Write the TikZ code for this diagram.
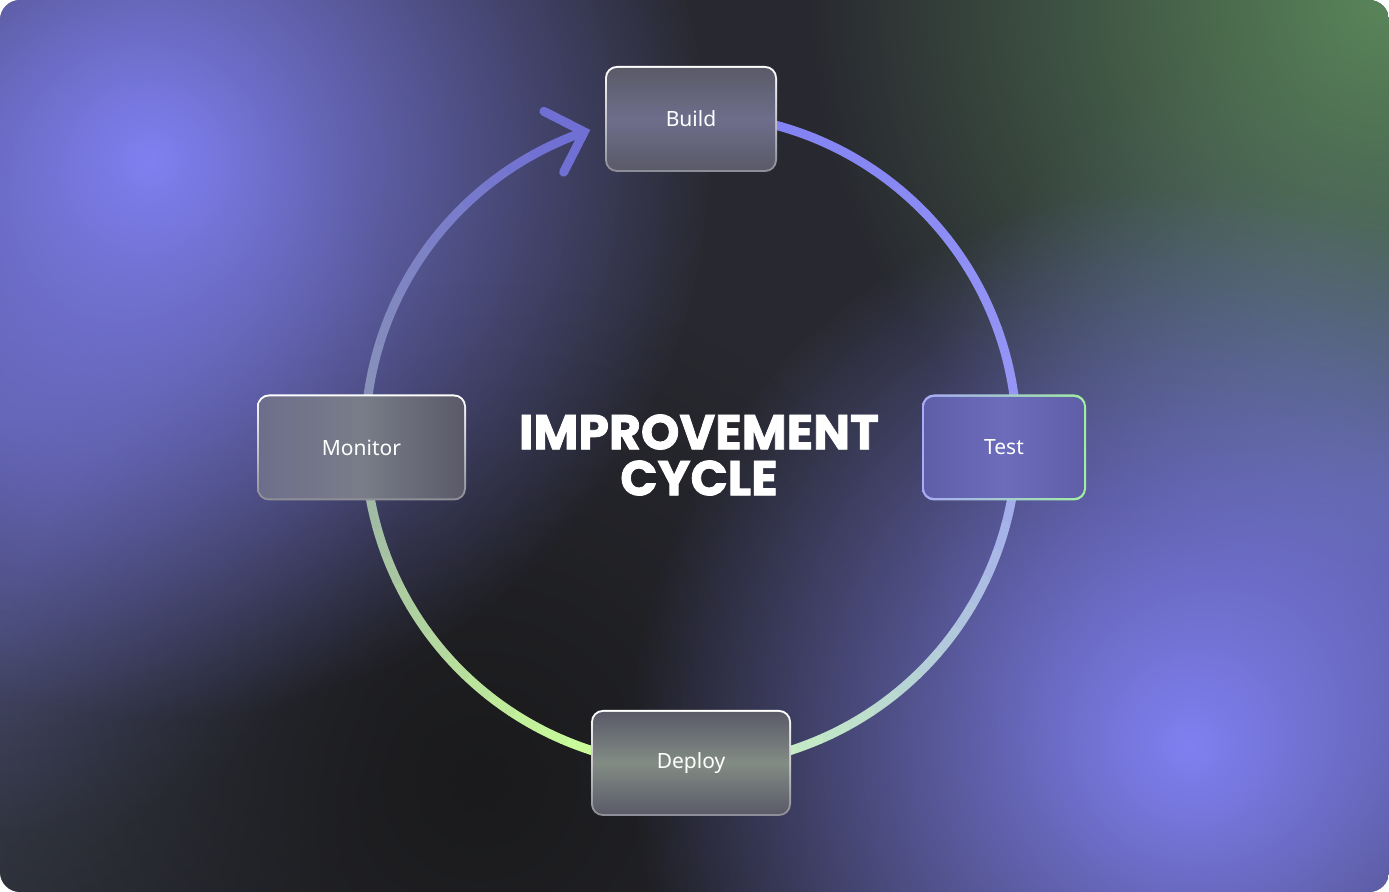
\documentclass[tikz,border=0pt]{standalone}
\usepackage{fontspec}
\setmainfont{Noto Sans}
\newfontfamily\headfont[BoldFeatures={FakeBold=1.6}]{Poppins}
\usepackage{xcolor}
\usepackage{tikz}
\usetikzlibrary{arrows.meta,positioning,fadings}
\definecolor{bgbase}{RGB}{40, 41, 48}
\definecolor{glowpurple}{RGB}{128, 128, 242}
\definecolor{sidepurple}{RGB}{80, 80, 138}
\definecolor{glowgreen}{RGB}{90, 134, 90}
\definecolor{shadowblack}{RGB}{26, 26, 28}
\definecolor{slateblue}{RGB}{58, 64, 78}
\definecolor{ringa}{RGB}{128, 128, 242}
\definecolor{ringb}{RGB}{150, 150, 246}
\definecolor{ringc}{RGB}{162, 170, 238}
\definecolor{ringd}{RGB}{196, 236, 196}
\definecolor{ringe}{RGB}{204, 255, 153}
\definecolor{ringf}{RGB}{160, 184, 164}
\definecolor{ringg}{RGB}{136, 146, 184}
\definecolor{ringh}{RGB}{112, 112, 212}
\definecolor{rimgray}{RGB}{140, 140, 150}
\definecolor{facegray}{RGB}{90, 90, 104}
\definecolor{facelight}{RGB}{110, 110, 140}
\definecolor{facegreen}{RGB}{130, 140, 132}
\definecolor{testface}{RGB}{94, 94, 168}
\definecolor{testlight}{RGB}{108, 108, 188}
\definecolor{testlilac}{RGB}{170, 170, 248}
\definecolor{testmint}{RGB}{160, 240, 160}
\tikzfading[name=glowfade, inner color=transparent!0, outer color=transparent!100]

\begin{document}
\begin{tikzpicture}[x=0.5pt,y=0.5pt,
    ringline/.style={line width=4.5pt,line cap=round},
    rim/.style={rounded corners=6pt,inner sep=0pt,minimum height=53pt,top color=white,bottom color=rimgray},
    face/.style={rounded corners=5pt,inner sep=0pt,minimum height=51pt,text=white,font=\fontsize{10.5}{12}\selectfont}]
    % backdrop with soft glows
    \useasboundingbox (0,0) rectangle (1389,892);
    \begin{scope}
        \clip[rounded corners=10pt] (0,0) rectangle (1389,892);
        \fill[bgbase] (0,0) rectangle (1389,892);
        \fill[slateblue, path fading=glowfade] (0,250) circle (420);
        \fill[sidepurple, path fading=glowfade] (0,470) circle (420);
        \fill[sidepurple, path fading=glowfade] (1389,400) circle (480);
        \fill[shadowblack, path fading=glowfade] (480,110) circle (500);
        \fill[glowgreen, path fading=glowfade] (1389,892) circle (580);
        \fill[glowpurple, path fading=glowfade] (150,732) circle (560);
        \fill[glowpurple, path fading=glowfade] (1190,147) circle (560);
    \end{scope}

    % the ring, coloured piece by piece
    \coordinate (hub) at (691,452);
    \foreach \sa/\ea/\ca/\cb in {80/8/ringa/ringb, 8/-10/ringb/ringc, -10/-72/ringc/ringd,
        -72/-108/ringd/ringe, -108/-170/ringe/ringf, -170/-188/ringf/ringg, -188/-246/ringg/ringh}{
        \foreach \k in {0,...,11}{
            \pgfmathsetmacro{\pa}{\sa+(\ea-\sa)*\k/12}
            \pgfmathsetmacro{\pb}{\sa+(\ea-\sa)*(\k+1)/12}
            \pgfmathtruncatemacro{\mix}{100-(\k+0.5)*100/12}
            \draw[ringline, color=\ca!\mix!\cb] ([shift={(\pa:326)}]hub) arc[start angle=\pa, end angle=\pb, radius=326];
        }
    }
    \draw[ringline, ringh, -{Straight Barb[length=16pt,width=32pt,line cap=round]}]
        ([shift={(-246:326)}]hub) arc[start angle=-246, end angle=-252, radius=326];

    % stages
    \node[rim, minimum width=86pt] (build-rim) at (691,773) {};
    \node[face, minimum width=84pt, top color=facegray, bottom color=facegray, middle color=facelight] (build) at (build-rim) {Build};

    \node[rim, minimum width=82pt, left color=testlilac, right color=testmint] (test-rim) at (1004,444.5) {};
    \node[face, minimum width=80pt, minimum height=50.5pt, left color=testface, right color=testface, middle color=testlight] (test) at (test-rim) {Test};

    \node[rim, minimum width=100pt] (deploy-rim) at (691,129) {};
    \node[face, minimum width=98pt, top color=facegray, bottom color=facegray, middle color=facegreen] (deploy) at (deploy-rim) {Deploy};

    \node[rim, minimum width=104.5pt] (monitor-rim) at (361.5,444.5) {};
    \node[face, minimum width=102.5pt, left color=facelight, right color=facegray, middle color=facegreen!50!facelight] (monitor) at (monitor-rim) {Monitor};

    \node[text=white, align=center, font=\headfont\bfseries\fontsize{24.5}{23}\selectfont] (title) at (699,437) {IMPROVEMENT\\CYCLE};
\end{tikzpicture}
\end{document}
